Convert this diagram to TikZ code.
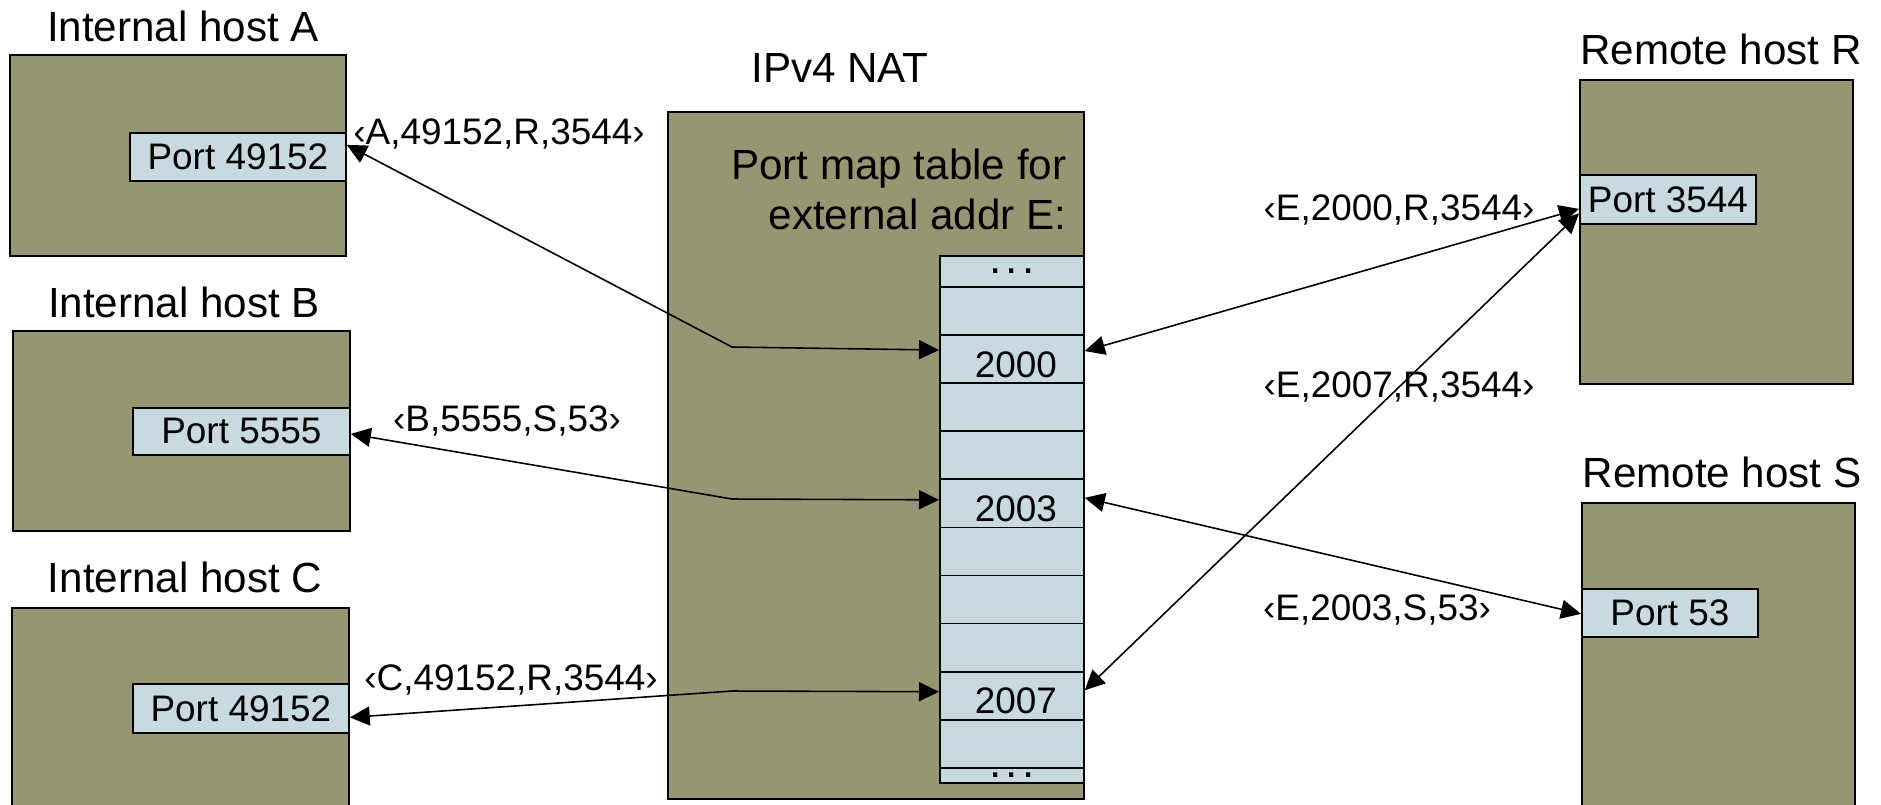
\documentclass[tikz,border=0pt]{standalone}
\usepackage{fontspec}
\setmainfont{Liberation Sans}
\usetikzlibrary{arrows.meta}
\definecolor{hostolive}{RGB}{150,150,115}
\definecolor{portblue}{RGB}{201,217,224}
\begin{document}
\begin{tikzpicture}[x=0.1mm, y=-0.1mm,
  big/.style={font=\fontsize{12}{14.3}\selectfont, inner sep=0pt},
  lbl/.style={font=\fontsize{10.5}{12.6}\selectfont, inner sep=0pt},
  hostbox/.style={draw, line width=0.5pt, fill=hostolive, inner sep=0pt, anchor=north west},
  portbox/.style={draw, line width=0.5pt, fill=portblue, inner sep=0pt, anchor=north west, font=\fontsize{10.5}{12.6}\selectfont},
  rowbox/.style={draw, line width=0.5pt, fill=portblue, inner sep=0pt, anchor=north west, minimum width=14.4mm, font=\fontsize{10.5}{12.6}\selectfont},
  dotrow/.style={rowbox, font=\fontsize{12.5}{14}\selectfont, text height=0.5mm, text depth=0mm},
  conn/.style={line width=0.45pt, {Triangle[length=2mm,width=1.9mm]}-{Triangle[length=2mm,width=1.9mm]}}]
\useasboundingbox (0,0) rectangle (1881,804);

% internal hosts
\node[hostbox, minimum width=33.6mm, minimum height=20.1mm] (hA) at (9,54) {};
\node[portbox, minimum width=21.6mm, minimum height=4.8mm] (pA) at (129,132) {Port 49152};
\node[hostbox, minimum width=33.7mm, minimum height=20mm] (hB) at (12,330) {};
\node[portbox, minimum width=21.7mm, minimum height=4.7mm] (pB) at (132,407) {Port 5555};
\node[hostbox, minimum width=33.7mm, minimum height=21.3mm] (hC) at (11,607) {};
\node[portbox, minimum width=21.6mm, minimum height=4.9mm] (pC) at (132,683) {Port 49152};

\node[big, anchor=base] (tA) at (183,41) {Internal host A};
\node[big, anchor=base] (tB) at (184,317) {Internal host B};
\node[big, anchor=base] (tC) at (185,592) {Internal host C};

% NAT
\node[hostbox, minimum width=41.6mm, minimum height=68.7mm] (nat) at (667,111) {};
\node[big, anchor=base] (tN) at (840,82) {IPv4 NAT};
\node[big, anchor=north east, align=right] (tT) at (1067,148) {Port map table for\\external addr E:};

\node[dotrow, minimum height=3.1mm] (r0) at (939,255) {.\kern0.45mm.\kern0.45mm.};
\foreach \i/\t in {1/,2/2000,3/,4/,5/2003,6/,7/,8/,9/2007,10/}{
  \node[rowbox, minimum height=4.81mm, text height=3.6mm, text depth=0mm] (r\i) at (939,{286+48.1*(\i-1)}) {\hspace*{0.8mm}\t};
}
\node[dotrow, minimum height=1.5mm] (r11) at (939,767) {.\kern0.45mm.\kern0.45mm.};

% remote hosts
\node[hostbox, minimum width=27.3mm, minimum height=30.4mm] (hR) at (1579,79) {};
\node[portbox, minimum width=17.6mm, minimum height=4.9mm] (pR) at (1579,174) {Port 3544};
\node[hostbox, minimum width=27.3mm, minimum height=31.8mm] (hS) at (1581,502) {};
\node[portbox, minimum width=17.6mm, minimum height=4.8mm] (pS) at (1581,588) {Port 53};

\node[big, anchor=base] (tR) at (1721,64) {Remote host R};
\node[big, anchor=base] (tS) at (1722,487) {Remote host S};

% tuple labels
\node[lbl, anchor=base] (lA) at (499,144) {‹A,49152,R,3544›};
\node[lbl, anchor=base] (lB) at (507,431) {‹B,5555,S,53›};
\node[lbl, anchor=base] (lC) at (511,690) {‹C,49152,R,3544›};
\node[lbl, anchor=base] (lR1) at (1399,220) {‹E,2000,R,3544›};
\node[lbl, anchor=base] (lR2) at (1399,397) {‹E,2007,R,3544›};
\node[lbl, anchor=base] (lS) at (1377,620) {‹E,2003,S,53›};

% connectors
\coordinate (bA) at (732,347);
\coordinate (bB) at (732,499);
\coordinate (bC) at (732,691);
\draw[conn] ([yshift=1.2mm]pA.east) -- (bA) -- ([yshift=0.9mm]r2.west);
\draw[conn] ([yshift=-0.25mm]pB.east) -- (bB) -- ([yshift=0.35mm]r5.west);
\draw[conn] ([yshift=-0.9mm]pC.east) -- (bC) -- ([yshift=0.4mm]r9.west);
\draw[conn] ([yshift=0.8mm]r2.east) -- ([yshift=-0.95mm]pR.west);
\draw[conn] ([yshift=0.55mm]r9.east) -- ([yshift=-1.4mm]pR.west);
\draw[conn] ([yshift=0.55mm]r5.east) -- ([yshift=-0.1mm]pS.west);
\end{tikzpicture}
\end{document}
